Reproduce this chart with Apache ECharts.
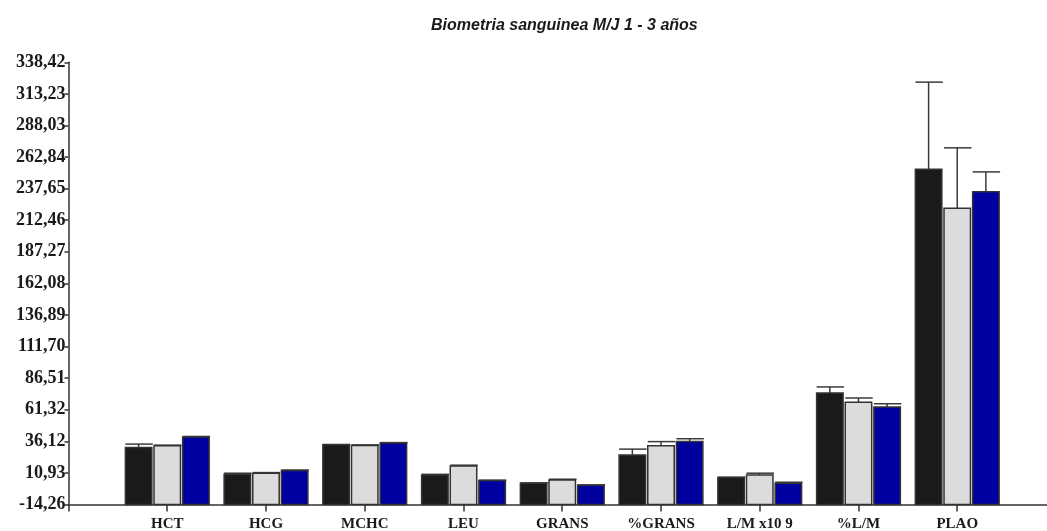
<!DOCTYPE html>
<html>
<head>
<meta charset="utf-8">
<title>Biometria sanguinea M/J 1 - 3 años</title>
<script src="https://cdn.jsdelivr.net/npm/echarts@6/dist/echarts.min.js"></script>
<style>
  html, body { margin: 0; padding: 0; background: #ffffff; }
  #chart { width: 1047px; height: 531px; }
</style>
</head>
<body>
<div id="chart"></div>
<script>
// Blood panel means (three groups) with upward SEM whiskers
const categories = ['HCT', 'HCG', 'MCHC', 'LEU', 'GRANS', '%GRANS', 'L/M x10 9', '%L/M', 'PLAO'];

const groupA = [31.2, 9.9, 33.3, 9.3, 2.7, 25.3, 7.2, 74.7, 253.1];
const groupB = [32.5, 10.7, 32.8, 16.5, 5.3, 32.5, 9.3, 67.2, 222.0];
const groupC = [39.5, 12.8, 34.7, 4.8, 1.1, 36.0, 2.7, 63.5, 235.2];

const errA = [2.7, 0.8, 0.3, 0.5, 0.3, 4.6, 0.3, 4.8, 69.5];
const errB = [0.6, 0.5, 0.5, 0.6, 0.6, 3.4, 1.4, 3.5, 48.2];
const errC = [0.5, 0.4, 0.4, 0.3, 0.3, 2.2, 0.8, 2.6, 15.8];

const yTickLabels = ['-14,26', '10,93', '36,12', '61,32', '86,51', '111,70', '136,89', '162,08',
  '187,27', '212,46', '237,65', '262,84', '288,03', '313,23', '338,42'];

const yMin = -14.26;
const yMax = 338.42;
const yStep = (yMax - yMin) / (yTickLabels.length - 1);

// category slots sit at 1..n on the horizontal axis; 0 is the origin
const slotPositions = categories.map((c, i) => i + 1);

const groups = [
  { values: groupA, errors: errA, fill: '#1a1a1a' },
  { values: groupB, errors: errB, fill: '#dcdcdc' },
  { values: groupC, errors: errC, fill: '#0000a0' }
];

const BAR_FRAC = 0.268;   // bar width as share of one category slot
const STEP_FRAC = 0.29;   // distance between neighbouring bars in a slot

function makeSeries(g, gi) {
  const data = g.values.map((v, i) => [slotPositions[i], v, g.errors[i]]);
  return {
    type: 'custom',
    name: 'G' + gi,
    data: data,
    clip: false,
    encode: { x: 0, y: 1 },
    renderItem: function (params, api) {
      const x = api.value(0);
      const v = api.value(1);
      const e = api.value(2);
      const slot = api.size([1, 0])[0];
      const w = slot * BAR_FRAC;
      const off = (gi - 1) * slot * STEP_FRAC;
      const base = api.coord([x, yMin]);
      const top = api.coord([x, v]);
      const cap = api.coord([x, v + e]);
      const cx = base[0] + off;
      return {
        type: 'group',
        children: [
          {
            type: 'line',
            shape: { x1: cx, y1: top[1], x2: cx, y2: cap[1] },
            style: { stroke: '#3a3a3a', lineWidth: 1.5 }
          },
          {
            type: 'line',
            shape: { x1: cx - w / 2, y1: cap[1], x2: cx + w / 2 + 1, y2: cap[1] },
            style: { stroke: '#3a3a3a', lineWidth: 1.5 }
          },
          {
            type: 'rect',
            shape: { x: cx - w / 2, y: top[1], width: w, height: base[1] - top[1] },
            style: { fill: g.fill, stroke: '#333333', lineWidth: 1.5 }
          }
        ]
      };
    }
  };
}

const chart = echarts.init(document.getElementById('chart'), null, { renderer: 'canvas' });

chart.setOption({
  animation: false,
  backgroundColor: '#ffffff',
  title: {
    text: 'Biometria sanguinea M/J 1 - 3 años',
    left: 431,
    top: 18,
    padding: 0,
    textStyle: {
      fontFamily: 'Liberation Sans, Arial, sans-serif',
      fontSize: 16,
      fontWeight: 'bold',
      fontStyle: 'italic',
      color: '#1a1a1a'
    }
  },
  grid: {
    left: 68.5, right: 0, top: 62.3, bottom: 26.5,
    containLabel: false,
    outerBoundsMode: 'none'
  },
  xAxis: {
    type: 'value',
    min: 0,
    max: 9.909,
    splitLine: { show: false },
    axisLine: { show: true, onZero: false, lineStyle: { color: '#333333', width: 1.5 } },
    axisTick: {
      show: true,
      length: 7,
      customValues: [0].concat(slotPositions),
      lineStyle: { color: '#333333', width: 1.5 }
    },
    axisLabel: {
      margin: 12,
      customValues: slotPositions,
      fontFamily: 'Liberation Serif, Times New Roman, serif',
      fontWeight: 'bold',
      fontSize: 15,
      color: '#1a1a1a',
      formatter: function (v) {
        const i = Math.round(v);
        return categories[i - 1] || '';
      }
    }
  },
  yAxis: {
    type: 'value',
    min: yMin,
    max: yMax,
    interval: yStep,
    splitLine: { show: false },
    axisLine: { show: true, onZero: false, lineStyle: { color: '#333333', width: 1.5 } },
    axisTick: { show: true, length: 4, lineStyle: { color: '#333333', width: 1.5 } },
    axisLabel: {
      margin: 3,
      fontFamily: 'Liberation Serif, Times New Roman, serif',
      fontWeight: 'bold',
      fontSize: 18,
      color: '#1a1a1a',
      formatter: function (v) {
        const i = Math.round((v - yMin) / yStep);
        return yTickLabels[i] !== undefined ? yTickLabels[i] : '';
      }
    }
  },
  series: groups.map(makeSeries)
});
</script>
</body>
</html>
